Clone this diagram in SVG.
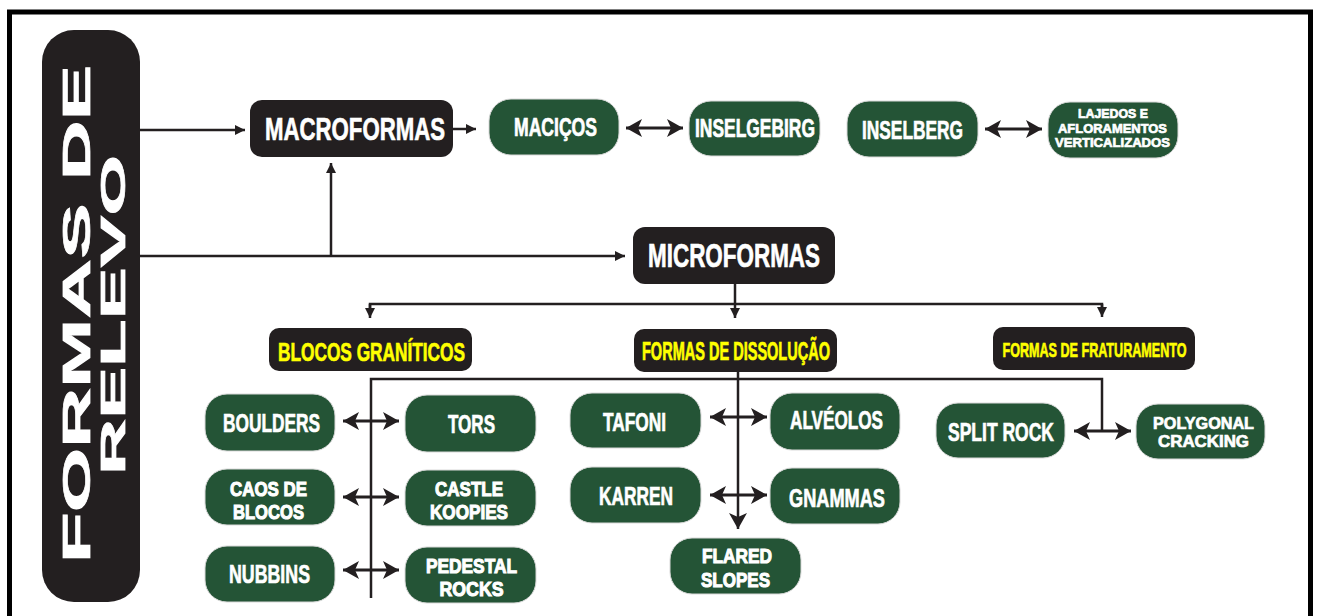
<svg xmlns="http://www.w3.org/2000/svg" width="1317" height="616" viewBox="0 0 1317 616">
<style>
.frame{fill:none;stroke:#000;stroke-width:5}
.blk{fill:#231f20}
.grn{fill:#245436;stroke:#d9d9d9;stroke-width:1}
.t{font-family:"Liberation Sans",Arial,sans-serif;font-weight:bold;text-anchor:middle;stroke-width:0.7}
.w{fill:#fff;stroke:#fff}
.y{fill:#ffff00;stroke:#ffff00}
.m{font-size:21px;stroke-width:1.1}
.c{fill:none;stroke:#231f20;stroke-width:2.5}
.d{fill:none;stroke:#231f20;stroke-width:3}
</style>
<defs>
<marker id="a" viewBox="0 0 10 10" markerWidth="10" markerHeight="10" markerUnits="userSpaceOnUse" refX="10" refY="5" orient="auto"><path d="M0,0 L10,5 L0,10 z" fill="#231f20"/></marker>
<marker id="b" viewBox="0 0 16 18" markerWidth="16" markerHeight="18" markerUnits="userSpaceOnUse" refX="16" refY="9" orient="auto-start-reverse"><path d="M0,0 L16,9 L0,18 L4,9 z" fill="#231f20"/></marker>
</defs>
<rect class="frame" x="9.5" y="12" width="1301" height="640"/>

<g id="connectors">
<line class="c" x1="140" y1="130" x2="245" y2="130" marker-end="url(#a)"/>
<line class="c" x1="453" y1="129" x2="476" y2="129" marker-end="url(#a)"/>
<line class="c" x1="140" y1="256" x2="625" y2="256" marker-end="url(#a)"/>
<line class="c" x1="331" y1="256" x2="331" y2="163" marker-end="url(#a)"/>
<line class="c" x1="735" y1="284" x2="735" y2="318" marker-end="url(#a)"/>
<polyline class="c" points="370,310 370,304 1102,304 1102,310"/>
<line class="c" x1="370" y1="304" x2="370" y2="318" marker-end="url(#a)"/>
<line class="c" x1="1102" y1="304" x2="1102" y2="317" marker-end="url(#a)"/>
<polyline class="c" points="371,598 371,379 1102,379 1102,431"/>
<line class="c" x1="738" y1="372" x2="738" y2="529" marker-end="url(#b)"/>
<line class="d" x1="626" y1="128" x2="683" y2="128" marker-start="url(#b)" marker-end="url(#b)"/>
<line class="d" x1="985" y1="129" x2="1042" y2="129" marker-start="url(#b)" marker-end="url(#b)"/>
<line class="d" x1="343" y1="421" x2="399" y2="421" marker-start="url(#b)" marker-end="url(#b)"/>
<line class="d" x1="343" y1="497" x2="399" y2="497" marker-start="url(#b)" marker-end="url(#b)"/>
<line class="d" x1="343" y1="570" x2="399" y2="570" marker-start="url(#b)" marker-end="url(#b)"/>
<line class="d" x1="710" y1="417" x2="767" y2="417" marker-start="url(#b)" marker-end="url(#b)"/>
<line class="d" x1="710" y1="495" x2="767" y2="495" marker-start="url(#b)" marker-end="url(#b)"/>
<line class="d" x1="1074" y1="431" x2="1131" y2="431" marker-start="url(#b)" marker-end="url(#b)"/>
</g>

<g id="formas-de-relevo">
<rect class="blk" x="42" y="30" width="98" height="572" rx="32"/>
<text class="t w" font-size="38" stroke-width="1.2" transform="translate(90,314) rotate(-90)" textLength="498" lengthAdjust="spacingAndGlyphs">FORMAS DE</text>
<text class="t w" font-size="35" stroke-width="1.2" transform="translate(125,315) rotate(-90)" textLength="320" lengthAdjust="spacingAndGlyphs">RELEVO</text>
</g>

<g id="macroformas">
<rect class="blk" x="250" y="100" width="203" height="57" rx="12"/>
<text class="t w" x="355" y="140" font-size="32" textLength="180" lengthAdjust="spacingAndGlyphs">MACROFORMAS</text>
</g>
<g id="macicos">
<rect class="grn" x="489" y="99" width="130" height="56" rx="22"/>
<text class="t w" x="555.5" y="136" font-size="25" textLength="83" lengthAdjust="spacingAndGlyphs">MACIÇOS</text>
</g>
<g id="inselgebirg">
<rect class="grn" x="689" y="101" width="131" height="55" rx="22"/>
<text class="t w" x="755" y="137" font-size="25" textLength="120" lengthAdjust="spacingAndGlyphs">INSELGEBIRG</text>
</g>
<g id="inselberg">
<rect class="grn" x="847" y="101" width="131" height="56" rx="22"/>
<text class="t w" x="912.5" y="139" font-size="26" textLength="101" lengthAdjust="spacingAndGlyphs">INSELBERG</text>
</g>
<g id="lajedos">
<rect class="grn" x="1048" y="102" width="130" height="56" rx="22"/>
<text class="t w" font-size="13" stroke-width="0.7"><tspan x="1113" y="118" textLength="70" lengthAdjust="spacingAndGlyphs">LAJEDOS E</tspan><tspan x="1112.5" y="132.6" textLength="109" lengthAdjust="spacingAndGlyphs">AFLORAMENTOS</tspan><tspan x="1112.5" y="147.2" textLength="115" lengthAdjust="spacingAndGlyphs">VERTICALIZADOS</tspan></text>
</g>

<g id="microformas">
<rect class="blk" x="633" y="227" width="202" height="57" rx="12"/>
<text class="t w" x="734" y="267" font-size="33" textLength="172" lengthAdjust="spacingAndGlyphs">MICROFORMAS</text>
</g>

<g id="blocos-graniticos">
<rect class="blk" x="269" y="328" width="203" height="43" rx="10"/>
<text class="t y" x="371.5" y="361" font-size="26" textLength="187" lengthAdjust="spacingAndGlyphs">BLOCOS GRANÍTICOS</text>
</g>
<g id="formas-dissolucao">
<rect class="blk" x="634" y="329" width="203" height="43" rx="10"/>
<text class="t y" x="736" y="360" font-size="25" textLength="188" lengthAdjust="spacingAndGlyphs">FORMAS DE DISSOLUÇÃO</text>
</g>
<g id="formas-fraturamento">
<rect class="blk" x="993" y="327" width="202" height="43" rx="10"/>
<text class="t y" x="1094.5" y="356.5" font-size="21" stroke-width="0.5" textLength="184" lengthAdjust="spacingAndGlyphs">FORMAS DE FRATURAMENTO</text>
</g>

<g id="boulders">
<rect class="grn" x="205" y="394" width="130" height="57" rx="22"/>
<text class="t w" x="271.5" y="432" font-size="26" textLength="97" lengthAdjust="spacingAndGlyphs">BOULDERS</text>
</g>
<g id="tors">
<rect class="grn" x="405" y="395" width="131" height="57" rx="22"/>
<text class="t w" x="471.5" y="433" font-size="26" textLength="47" lengthAdjust="spacingAndGlyphs">TORS</text>
</g>
<g id="caos-de-blocos">
<rect class="grn" x="205" y="469" width="130" height="56" rx="22"/>
<text class="t w m"><tspan x="268.5" y="495.5" textLength="77" lengthAdjust="spacingAndGlyphs">CAOS DE</tspan><tspan x="268.5" y="519" textLength="71" lengthAdjust="spacingAndGlyphs">BLOCOS</tspan></text>
</g>
<g id="castle-koopies">
<rect class="grn" x="405" y="470" width="131" height="56" rx="22"/>
<text class="t w m"><tspan x="469" y="495.5" textLength="68" lengthAdjust="spacingAndGlyphs">CASTLE</tspan><tspan x="469" y="519" textLength="78" lengthAdjust="spacingAndGlyphs">KOOPIES</tspan></text>
</g>
<g id="nubbins">
<rect class="grn" x="205" y="546" width="130" height="56" rx="22"/>
<text class="t w" x="269.5" y="583" font-size="26" textLength="81" lengthAdjust="spacingAndGlyphs">NUBBINS</text>
</g>
<g id="pedestal-rocks">
<rect class="grn" x="405" y="547" width="131" height="56" rx="22"/>
<text class="t w m"><tspan x="471.5" y="572.5" textLength="91" lengthAdjust="spacingAndGlyphs">PEDESTAL</tspan><tspan x="471.5" y="596" textLength="64" lengthAdjust="spacingAndGlyphs">ROCKS</tspan></text>
</g>

<g id="tafoni">
<rect class="grn" x="570" y="393" width="131" height="55" rx="22"/>
<text class="t w" x="634.5" y="431" font-size="26" textLength="63" lengthAdjust="spacingAndGlyphs">TAFONI</text>
</g>
<g id="alveolos">
<rect class="grn" x="770" y="393" width="130" height="57" rx="22"/>
<text class="t w" x="836.5" y="429" font-size="26" textLength="93" lengthAdjust="spacingAndGlyphs">ALVÉOLOS</text>
</g>
<g id="karren">
<rect class="grn" x="570" y="467" width="131" height="56" rx="22"/>
<text class="t w" x="636" y="505" font-size="26" textLength="74" lengthAdjust="spacingAndGlyphs">KARREN</text>
</g>
<g id="gnammas">
<rect class="grn" x="770" y="468" width="130" height="56" rx="22"/>
<text class="t w" x="837" y="507" font-size="26" textLength="96" lengthAdjust="spacingAndGlyphs">GNAMMAS</text>
</g>
<g id="flared-slopes">
<rect class="grn" x="670" y="538" width="131" height="56" rx="22"/>
<text class="t w m"><tspan x="737" y="563" textLength="70" lengthAdjust="spacingAndGlyphs">FLARED</tspan><tspan x="735.5" y="586.5" textLength="69" lengthAdjust="spacingAndGlyphs">SLOPES</tspan></text>
</g>

<g id="split-rock">
<rect class="grn" x="936" y="403" width="129" height="55" rx="22"/>
<text class="t w" x="1001" y="441" font-size="26" textLength="106" lengthAdjust="spacingAndGlyphs">SPLIT ROCK</text>
</g>
<g id="polygonal-cracking">
<rect class="grn" x="1136" y="404" width="129" height="55" rx="22"/>
<text class="t w" font-size="16.5" stroke-width="1"><tspan x="1203.5" y="428.5" textLength="101" lengthAdjust="spacingAndGlyphs">POLYGONAL</tspan><tspan x="1203.5" y="447" textLength="91" lengthAdjust="spacingAndGlyphs">CRACKING</tspan></text>
</g>
</svg>
